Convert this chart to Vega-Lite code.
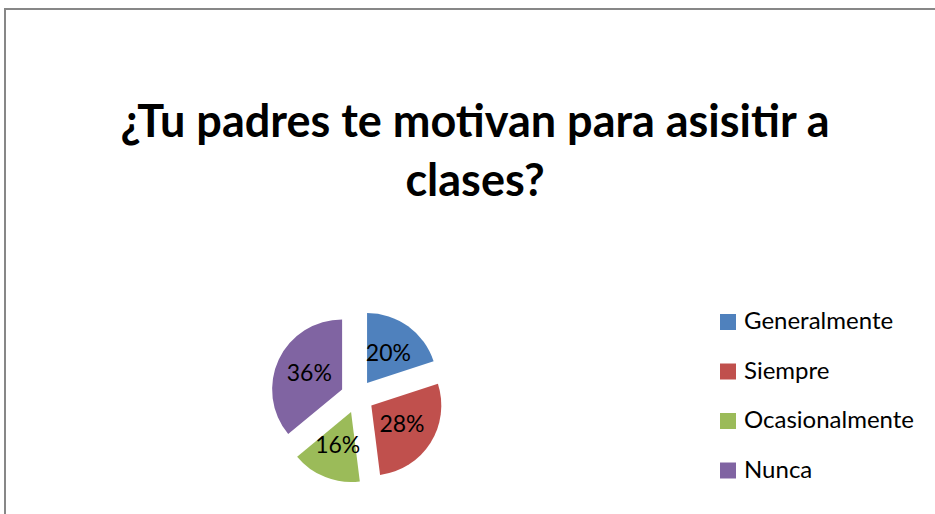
{
  "$schema": "https://vega.github.io/schema/vega-lite/v6.json",
  "autosize": "none",
  "padding": {"left": 5, "top": 9, "right": 0, "bottom": 0},
  "width": 940,
  "height": 520,
  "background": "white",
  "config": {
    "view": {"stroke": "#878787", "strokeWidth": 2},
    "font": "Lato"
  },
  "title": {
    "text": ["¿Tu padres te motivan para  asisitir a", "clases?"],
    "anchor": "middle",
    "frame": "group",
    "orient": "top",
    "offset": -196,
    "font": "Lato",
    "fontSize": 45,
    "fontWeight": "bold",
    "color": "#000000",
    "lineHeight": 59
  },
  "data": {
    "values": [
      {"categoria": "Generalmente", "pct": 0.20},
      {"categoria": "Siempre", "pct": 0.28},
      {"categoria": "Ocasionalmente", "pct": 0.16},
      {"categoria": "Nunca", "pct": 0.36}
    ]
  },
  "transform": [
    {"stack": "pct", "groupby": [], "as": ["v0", "v1"]}
  ],
  "encoding": {
    "x": {"datum": 0.3747, "type": "quantitative", "scale": {"domain": [0, 1]}, "axis": null},
    "y": {"datum": 0.2548, "type": "quantitative", "scale": {"domain": [0, 1]}, "axis": null}
  },
  "layer": [
    {
      "mark": {
        "type": "arc",
        "radius": 70,
        "xOffset": {"expr": "16.7*sin(PI*(datum.v0+datum.v1))"},
        "yOffset": {"expr": "-16.7*cos(PI*(datum.v0+datum.v1))"}
      },
      "encoding": {
        "theta": {"field": "v0", "type": "quantitative", "scale": {"domain": [0, 1]}},
        "theta2": {"field": "v1"},
        "color": {
          "field": "categoria",
          "type": "nominal",
          "sort": null,
          "scale": {
            "domain": ["Generalmente", "Siempre", "Ocasionalmente", "Nunca"],
            "range": ["#4F81BD", "#C0504D", "#9BBB59", "#8064A2"]
          },
          "legend": {
            "title": null,
            "orient": "none",
            "legendX": 711,
            "legendY": 301,
            "padding": 0,
            "symbolType": "square",
            "symbolSize": 256,
            "symbolStrokeWidth": 0,
            "labelFont": "Lato",
            "labelFontSize": 24,
            "labelColor": "#000000",
            "labelOffset": 4,
            "labelLimit": 300,
            "rowPadding": 25.5
          }
        }
      }
    },
    {
      "mark": {"type": "text", "radius": 53, "font": "Lato", "fontSize": 23, "color": "#000000"},
      "encoding": {
        "theta": {"field": "pct", "type": "quantitative", "stack": true},
        "order": {"field": "v0", "type": "quantitative", "sort": "ascending"},
        "text": {"field": "pct", "type": "quantitative", "format": ".0%"}
      }
    }
  ]
}
